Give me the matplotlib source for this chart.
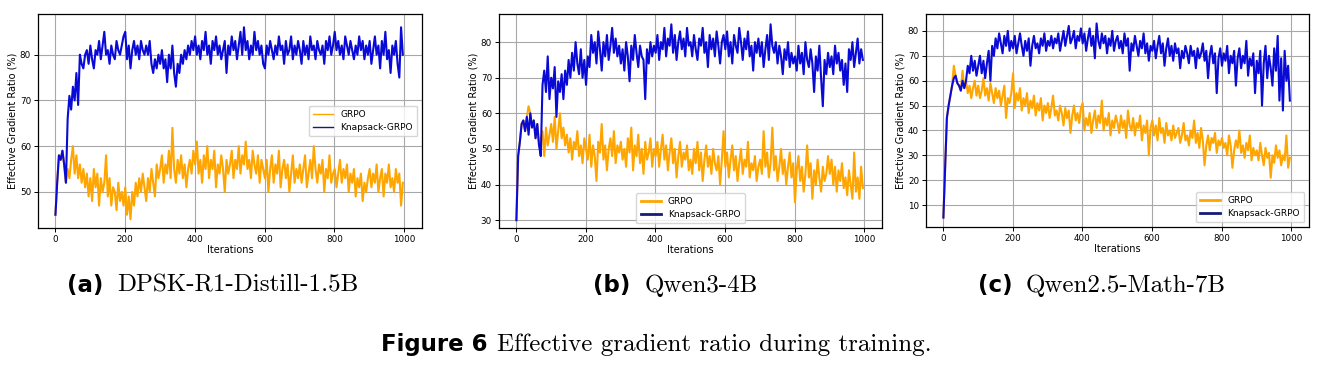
import numpy as np
import matplotlib
matplotlib.use("Agg")
import matplotlib.pyplot as plt
from matplotlib.lines import Line2D

# %% data (one value every 5 iterations)
iterations = np.arange(1, 1001, 5)

dpsk_grpo = [
    45, 52, 58, 57, 59, 56, 52, 55, 53, 57, 60, 54, 58, 53, 56, 52, 55, 51, 54, 49,
    53, 48, 55, 51, 54, 47, 53, 50, 52, 58, 49, 53, 47, 51, 50, 46, 52, 48, 50, 47,
    51, 45, 49, 44, 50, 47, 52, 49, 53, 50, 54, 51, 48, 53, 50, 55, 52, 49, 56, 53,
    55, 58, 52, 56, 54, 59, 53, 64, 55, 52, 57, 54, 58, 53, 56, 51, 55, 57, 54, 59,
    56, 61, 54, 57, 52, 58, 55, 60, 53, 57, 55, 59, 51, 56, 54, 58, 55, 50, 57, 54,
    56, 59, 53, 57, 55, 60, 54, 58, 56, 61, 55, 57, 53, 59, 56, 54, 58, 52, 57, 55,
    53, 57, 50, 55, 58, 52, 56, 54, 59, 51, 55, 57, 53, 56, 50, 54, 58, 52, 55, 53,
    56, 52, 55, 58, 51, 54, 57, 53, 60, 55, 52, 56, 54, 57, 50, 55, 53, 58, 52, 54,
    55, 51, 54, 57, 52, 55, 53, 56, 50, 54, 52, 55, 49, 53, 51, 54, 48, 52, 50, 53,
    55, 51, 54, 52, 56, 50, 53, 55, 49, 54, 52, 56, 51, 53, 50, 55, 52, 54, 47, 52,
]
dpsk_knap = [
    45, 52, 58, 57, 59, 56, 52, 66, 71, 68, 73, 70, 76, 69, 80, 78, 77, 80, 81, 78,
    82, 79, 77, 81, 80, 83, 79, 82, 85, 80, 81, 78, 82, 80, 79, 83, 81, 80, 82, 84,
    85, 79, 82, 77, 81, 83, 80, 82, 79, 83, 81, 80, 82, 80, 83, 78, 76, 79, 77, 80,
    78, 81, 77, 79, 74, 80, 77, 82, 76, 73, 78, 76, 80, 78, 81, 79, 82, 80, 83, 81,
    84, 80, 82, 79, 83, 81, 85, 80, 82, 78, 83, 81, 84, 80, 82, 79, 81, 83, 76, 82,
    80, 84, 81, 83, 79, 82, 85, 80, 86, 81, 83, 79, 82, 80, 85, 81, 83, 80, 82, 78,
    77, 82, 80, 83, 81, 79, 82, 80, 84, 81, 82, 78, 83, 80, 81, 84, 79, 82, 80, 83,
    81, 78, 83, 80, 82, 79, 84, 81, 82, 79, 83, 81, 80, 82, 78, 83, 81, 84, 80, 82,
    85, 81, 83, 80, 82, 79, 84, 82, 80, 83, 81, 79, 82, 80, 84, 81, 83, 79, 82, 80,
    83, 78, 81, 84, 80, 82, 77, 83, 80, 85, 79, 81, 76, 82, 80, 83, 78, 75, 86, 80,
]

qwen3_grpo = [
    30, 48, 52, 57, 58, 55, 59, 62, 60, 56, 58, 53, 57, 51, 52, 55, 48, 56, 51, 54,
    57, 52, 59, 50, 55, 60, 53, 56, 51, 54, 49, 53, 47, 52, 50, 55, 48, 51, 46, 53,
    50, 47, 54, 45, 51, 48, 41, 52, 49, 57, 47, 51, 44, 50, 53, 48, 55, 46, 51, 49,
    52, 47, 50, 45, 53, 49, 56, 44, 51, 48, 54, 46, 50, 43, 52, 47, 49, 53, 45, 50,
    48, 52, 45, 50, 54, 47, 51, 44, 49, 53, 46, 50, 42, 48, 52, 45, 49, 47, 51, 44,
    47, 43, 50, 46, 52, 44, 49, 41, 47, 51, 45, 48, 43, 50, 46, 44, 48, 40, 47, 55,
    45, 49, 42, 47, 51, 44, 48, 41, 46, 50, 43, 47, 45, 52, 42, 46, 44, 48, 41, 45,
    47, 43, 55, 45, 49, 42, 46, 56, 44, 48, 41, 45, 50, 43, 47, 40, 45, 49, 42, 46,
    35, 44, 48, 41, 45, 38, 43, 51, 42, 46, 36, 44, 40, 47, 42, 38, 45, 41, 43, 48,
    43, 47, 40, 45, 38, 44, 41, 46, 39, 42, 37, 44, 40, 36, 49, 38, 42, 36, 45, 39,
]
qwen3_knap = [
    30, 48, 52, 57, 58, 55, 59, 54, 60, 56, 58, 53, 57, 51, 48, 68, 72, 66, 76, 64,
    70, 67, 73, 59, 69, 66, 71, 64, 72, 68, 75, 70, 77, 72, 80, 74, 71, 78, 70, 75,
    68, 76, 73, 82, 77, 80, 74, 83, 78, 72, 80, 76, 82, 75, 79, 84, 77, 81, 76, 79,
    74, 78, 72, 80, 76, 69, 79, 75, 82, 77, 73, 79, 76, 75, 64, 78, 74, 80, 76, 79,
    77, 82, 75, 80, 78, 84, 76, 81, 79, 85, 77, 82, 75, 80, 83, 78, 81, 76, 84, 79,
    80, 76, 82, 78, 75, 81, 79, 84, 77, 80, 73, 82, 78, 81, 76, 83, 79, 74, 80, 82,
    78, 83, 76, 80, 74, 82, 79, 77, 84, 80, 75, 81, 78, 83, 76, 79, 72, 80, 77, 81,
    76, 80, 73, 78, 82, 75, 85, 79, 77, 80, 74, 79, 76, 71, 78, 75, 80, 73, 77, 74,
    76, 72, 79, 74, 77, 71, 80, 75, 73, 78, 74, 66, 76, 72, 79, 70, 62, 75, 71, 77,
    73, 76, 71, 79, 74, 77, 72, 75, 68, 74, 66, 78, 75, 80, 73, 77, 81, 74, 78, 75,
]

math7b_grpo = [
    5, 25, 45, 50, 54, 58, 66, 62, 59, 58, 56, 64, 57, 60, 55, 58, 53, 57, 60, 54,
    58, 53, 56, 61, 54, 57, 52, 59, 55, 51, 57, 53, 56, 50, 54, 58, 45, 53, 51, 55,
    63, 49, 55, 52, 57, 48, 53, 50, 55, 47, 52, 49, 54, 46, 51, 48, 53, 44, 50, 47,
    51, 45, 49, 54, 46, 48, 44, 50, 47, 42, 49, 45, 48, 39, 46, 50, 44, 47, 43, 49,
    51, 40, 45, 42, 47, 39, 44, 48, 41, 46, 43, 52, 40, 45, 42, 47, 38, 44, 41, 46,
    43, 39, 46, 41, 44, 37, 48, 42, 40, 45, 38, 43, 41, 46, 36, 42, 39, 44, 30, 41,
    44, 38, 42, 36, 45, 39, 41, 35, 43, 38, 40, 36, 42, 37, 39, 41, 35, 38, 43, 36,
    38, 34, 40, 37, 44, 35, 39, 33, 41, 36, 26, 34, 38, 32, 37, 35, 39, 31, 36, 34,
    37, 33, 35, 30, 38, 34, 25, 32, 36, 33, 40, 31, 34, 29, 35, 32, 38, 28, 33, 30,
    32, 28, 35, 30, 26, 33, 29, 31, 21, 30, 27, 34, 29, 32, 26, 30, 28, 38, 25, 29,
]
math7b_knap = [
    5, 25, 45, 50, 54, 58, 61, 62, 59, 58, 56, 60, 57, 60, 66, 63, 70, 64, 68, 62,
    66, 70, 63, 68, 61, 67, 72, 60, 74, 70, 77, 73, 79, 75, 71, 78, 74, 80, 72, 76,
    73, 78, 71, 75, 79, 74, 70, 76, 72, 77, 66, 74, 78, 73, 75, 71, 77, 74, 79, 72,
    76, 74, 78, 73, 77, 75, 79, 72, 76, 80, 74, 78, 82, 75, 77, 80, 73, 78, 76, 81,
    75, 79, 72, 77, 81, 74, 78, 69, 83, 76, 73, 79, 75, 78, 71, 77, 74, 80, 72, 76,
    78, 73, 76, 71, 79, 74, 77, 64, 75, 72, 78, 74, 70, 76, 73, 79, 71, 75, 68, 74,
    72, 76, 69, 74, 78, 71, 75, 66, 73, 77, 70, 74, 68, 75, 71, 73, 65, 72, 69, 74,
    71, 67, 74, 70, 72, 65, 73, 69, 71, 75, 68, 72, 61, 70, 74, 67, 71, 55, 69, 73,
    66, 71, 68, 74, 63, 70, 67, 72, 58, 69, 73, 65, 70, 67, 76, 62, 69, 66, 71, 55,
    68, 63, 72, 50, 67, 74, 61, 70, 65, 58, 73, 64, 78, 52, 69, 48, 72, 60, 66, 52,
]

panel_tags = ['(a)', '(b)', '(c)']
panel_names = ['DPSK-R1-Distill-1.5B', 'Qwen3-4B', 'Qwen2.5-Math-7B']
series_labels = ['GRPO', 'Knapsack-GRPO']

# %% figure
ORANGE = '#ffa500'
BLUE = '#0a0ad6'
LEG_BLUE = '#141c78'

fig = plt.figure(figsize=(13.26, 3.66), dpi=100)
W, H = 1326, 366

# axes boxes in pixels: left, top, right, bottom
boxes = [(38, 14, 422, 228), (499, 14, 882, 228), (926, 14, 1309, 227)]
ylims = [(42.1, 88.9), (27.8, 87.9), (1.2, 86.8)]
yticks = [[50, 60, 70, 80], [30, 40, 50, 60, 70, 80], [10, 20, 30, 40, 50, 60, 70, 80]]
legend_locs = ['center right', 'lower center', 'lower right']
legend_lw = [1.0, 2.0, 2.0]
data = [(dpsk_grpo, dpsk_knap), (qwen3_grpo, qwen3_knap), (math7b_grpo, math7b_knap)]

for i, (l, t, r, b) in enumerate(boxes):
    ax = fig.add_axes([l / W, 1 - b / H, (r - l) / W, (b - t) / H])
    grpo, knap = data[i]
    ax.plot(iterations, grpo, color=ORANGE, lw=1.5)
    ax.plot(iterations, knap, color=BLUE, lw=1.5)
    ax.set_xlim(-48.95, 1050.95)
    ax.set_ylim(*ylims[i])
    ax.set_xticks([0, 200, 400, 600, 800, 1000])
    ax.set_yticks(yticks[i])
    ax.grid(True, color='#a8a8a8', lw=0.8)
    ax.set_axisbelow(True)
    ax.tick_params(labelsize=6.3, length=3, width=0.7, pad=2)
    ax.set_xlabel('Iterations', fontsize=7, labelpad=1)
    ax.set_ylabel('Effective Gradient Ratio (%)', fontsize=7, labelpad=2)
    for s in ax.spines.values():
        s.set_linewidth(0.9)
    handles = [Line2D([], [], color=ORANGE, lw=legend_lw[i]),
               Line2D([], [], color=LEG_BLUE, lw=legend_lw[i])]
    ax.legend(handles, series_labels, loc=legend_locs[i], fontsize=6.5,
              handlelength=2.2, borderpad=0.5, labelspacing=0.4)

# %% captions
tag_x = [103, 630, 1013]
name_x = [117, 645, 1026]
cap_y = 1 - 292 / H
for i in range(3):
    fig.text(tag_x[i] / W, cap_y, panel_tags[i], ha='right', va='baseline',
             fontsize=16.5, fontweight='bold', family='DejaVu Sans')
    fig.text(name_x[i] / W, cap_y, panel_names[i], ha='left', va='baseline',
             fontsize=18, family='cmr10')

fig_y = 1 - 351 / H
fig.text(487 / W, fig_y, 'Figure 6', ha='right', va='baseline',
         fontsize=16.5, fontweight='bold', family='DejaVu Sans')
fig.text(497 / W, fig_y, 'Effective gradient ratio during training.', ha='left',
         va='baseline', fontsize=18, family='cmr10')

fig.savefig('out.png', dpi=100)
